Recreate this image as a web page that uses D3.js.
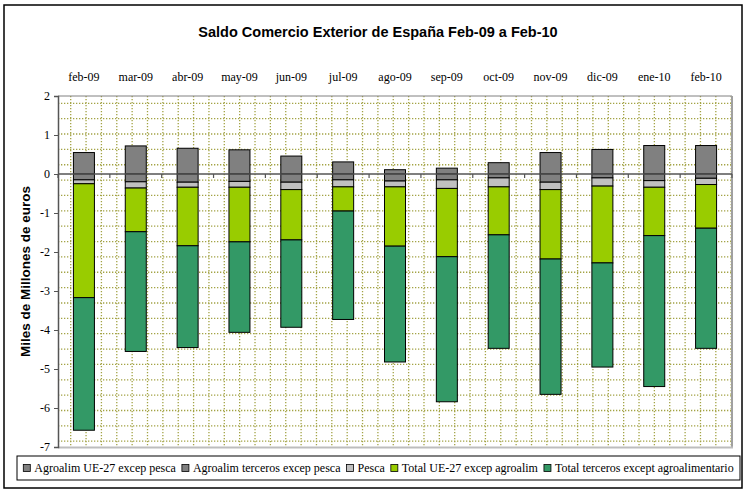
<!DOCTYPE html>
<html>
<head>
<meta charset="utf-8">
<script src="https://cdn.jsdelivr.net/npm/d3@7"></script>
<style>
  html, body { margin: 0; padding: 0; background: #fff; }
  svg { display: block; }
  .serif { font-family: "Liberation Serif", "Times New Roman", Tinos, "DejaVu Serif", serif; }
  .sans { font-family: "Liberation Sans", Arial, Arimo, sans-serif; }
</style>
</head>
<body>
<svg id="chart" width="748" height="495"></svg>
<script>
// ---- Data ----
const categories = ["feb-09","mar-09","abr-09","may-09","jun-09","jul-09","ago-09","sep-09","oct-09","nov-09","dic-09","ene-10","feb-10"];
const agroUE       = [0.55, 0.72, 0.66, 0.62, 0.46, 0.31, 0.11, 0.15, 0.29, 0.55, 0.63, 0.73, 0.73];
const agroTerceros = [-0.15,-0.20,-0.21,-0.19,-0.21,-0.15,-0.18,-0.15,-0.10,-0.21,-0.10,-0.17,-0.11];
const pesca        = [-0.10,-0.16,-0.13,-0.15,-0.19,-0.18,-0.15,-0.22,-0.23,-0.19,-0.21,-0.17,-0.16];
const totalUE      = [-2.92,-1.12,-1.50,-1.40,-1.29,-0.62,-1.52,-1.75,-1.23,-1.78,-1.97,-1.24,-1.12];
const totalTerceros= [-3.40,-3.07,-2.61,-2.32,-2.24,-2.78,-2.97,-3.72,-2.91,-3.47,-2.67,-3.87,-3.08];
const seriesNames = ["Agroalim UE-27 excep pesca","Agroalim terceros excep pesca","Pesca","Total UE-27 excep agroalim","Total terceros except agroalimentario"];
const seriesColors = ["#808080","#808080","#C0C0C0","#99CC00","#339966"];
const yTicks = [2,1,0,-1,-2,-3,-4,-5,-6,-7];
const title = "Saldo Comercio Exterior de España Feb-09 a Feb-10";
const yTitle = "Miles de Millones de euros";

const seriesArrays = [agroUE, agroTerceros, pesca, totalUE, totalTerceros];
const table = categories.map((c, i) => {
  const row = { cat: c };
  seriesNames.forEach((s, k) => row[s] = seriesArrays[k][i]);
  return row;
});

// ---- Layout ----
const svg = d3.select("#chart");
const plot = { left: 58, right: 732, top: 96, bottom: 447 };

// outer border
svg.append("rect").attr("x", 4).attr("y", 5).attr("width", 738).attr("height", 483)
  .attr("fill", "#fff").attr("stroke", "#000").attr("stroke-width", 1.5);

const x = d3.scaleBand().domain(categories).range([plot.left, plot.right]).padding(0);
const y = d3.scaleLinear().domain([-7, 2]).range([plot.bottom, plot.top]);

// plot area dotted grid pattern
svg.append("defs").append("clipPath").attr("id", "pclip")
  .append("rect").attr("x", plot.left).attr("y", plot.top)
  .attr("width", plot.right - plot.left).attr("height", plot.bottom - plot.top);

const grid = svg.append("g").attr("clip-path", "url(#pclip)");
const step = 15.36;
const gx = d3.range(plot.left + 12.7, plot.right, step);
const gy = d3.range(plot.top + 7.3, plot.bottom, step);
grid.selectAll("line.gv").data(gx).join("line")
  .attr("x1", d => d).attr("x2", d => d).attr("y1", plot.top).attr("y2", plot.bottom)
  .attr("stroke", "#a3a345").attr("stroke-width", 1.3).attr("stroke-dasharray", "1.3,1.7");
grid.selectAll("line.gh").data(gy).join("line")
  .attr("y1", d => d).attr("y2", d => d).attr("x1", plot.left).attr("x2", plot.right)
  .attr("stroke", "#a3a345").attr("stroke-width", 1.3).attr("stroke-dasharray", "1.3,1.7");

// plot border
svg.append("line").attr("x1", plot.left).attr("x2", plot.right).attr("y1", plot.top).attr("y2", plot.top)
  .attr("stroke", "#808080").attr("stroke-width", 1);
svg.append("line").attr("x1", plot.right).attr("x2", plot.right).attr("y1", plot.top).attr("y2", plot.bottom + 1)
  .attr("stroke", "#a0a0a0").attr("stroke-width", 2);
svg.append("line").attr("x1", plot.left).attr("x2", plot.right + 1).attr("y1", plot.bottom + 0.5).attr("y2", plot.bottom + 0.5)
  .attr("stroke", "#bdbdbd").attr("stroke-width", 2);

// ---- Bars ----
const stack = d3.stack().keys(seriesNames).offset(d3.stackOffsetDiverging).order(d3.stackOrderNone);
const stacked = stack(table);
const barW = x.bandwidth() * 0.405;

const bars = svg.append("g");
stacked.forEach((layer, k) => {
  bars.append("g").selectAll("rect").data(layer).join("rect")
    .attr("x", d => x(d.data.cat) + (x.bandwidth() - barW) / 2)
    .attr("width", barW)
    .attr("y", d => y(Math.max(d[0], d[1])))
    .attr("height", d => Math.abs(y(d[0]) - y(d[1])))
    .attr("fill", seriesColors[k])
    .attr("stroke", "#000").attr("stroke-width", 1);
});

// ---- Y axis ----
const yAxis = d3.axisLeft(y).tickValues(yTicks).tickSize(4).tickPadding(4).tickFormat(d3.format("d"));
const ya = svg.append("g").attr("transform", `translate(${plot.left},0)`).call(yAxis)
  .attr("font-family", null);
ya.select(".domain").attr("stroke", "#555").attr("stroke-width", 1.5);
ya.selectAll(".tick line").attr("stroke", "#555");
ya.selectAll(".tick text").attr("class", "serif")
  .attr("font-size", 12).attr("fill", "#000").text(d => d < 0 ? "-" + Math.abs(d) : d);

// ---- X axis at zero with ticks at category boundaries ----
const xa = svg.append("g");
xa.append("line").attr("x1", plot.left).attr("x2", plot.right).attr("y1", y(0)).attr("y2", y(0))
  .attr("stroke", "#555").attr("stroke-width", 1.5);
const boundaries = categories.map(c => x(c)).concat([plot.right]);
xa.selectAll("line.tk").data(boundaries).join("line")
  .attr("x1", d => d).attr("x2", d => d).attr("y1", y(0)).attr("y2", y(0) + 4)
  .attr("stroke", "#555").attr("stroke-width", 1.2);

// category labels at top
svg.append("g").selectAll("text").data(categories).join("text")
  .attr("class", "serif")
  .attr("x", d => x(d) + x.bandwidth() / 2)
  .attr("y", 81)
  .attr("text-anchor", "middle")
  .attr("font-size", 12)
  .text(d => d);

// ---- Titles ----
svg.append("text").attr("class", "sans").attr("x", 378).attr("y", 37).attr("text-anchor", "middle")
  .attr("font-weight", "bold").attr("font-size", 14.5).text(title);

svg.append("text").attr("class", "sans")
  .attr("transform", `translate(30,${(plot.top + plot.bottom) / 2}) rotate(-90)`)
  .attr("text-anchor", "middle")
  .attr("font-weight", "bold").attr("font-size", 13.5).text(yTitle);

// ---- Legend ----
const lg = svg.append("g");
const box = { x: 17, y: 456, w: 723, h: 24 };
lg.append("rect").attr("x", box.x).attr("y", box.y).attr("width", box.w).attr("height", box.h)
  .attr("fill", "#fff").attr("stroke", "#000").attr("stroke-width", 1);
const items = lg.selectAll("g.item").data(seriesNames).join("g");
items.append("rect").attr("width", 7).attr("height", 7)
  .attr("fill", (d, i) => seriesColors[i]).attr("stroke", "#000").attr("stroke-width", 0.8);
items.append("text").attr("class", "serif").attr("x", 11).attr("y", 7.5)
  .attr("font-size", 12).text(d => d);
let widths = [];
items.each(function () { widths.push(11 + this.querySelector("text").getComputedTextLength()); });
const gap = 6;
const total = d3.sum(widths) + gap * (widths.length - 1);
const avail = box.w - 10;
const scale = total > avail ? avail / total : 1;
let cx = box.x + (box.w - total * scale) / 2;
items.each(function (d, i) {
  d3.select(this).attr("transform", `translate(${cx},${box.y + 8.5})`);
  cx += (widths[i] + gap) * scale;
});
</script>
</body>
</html>
